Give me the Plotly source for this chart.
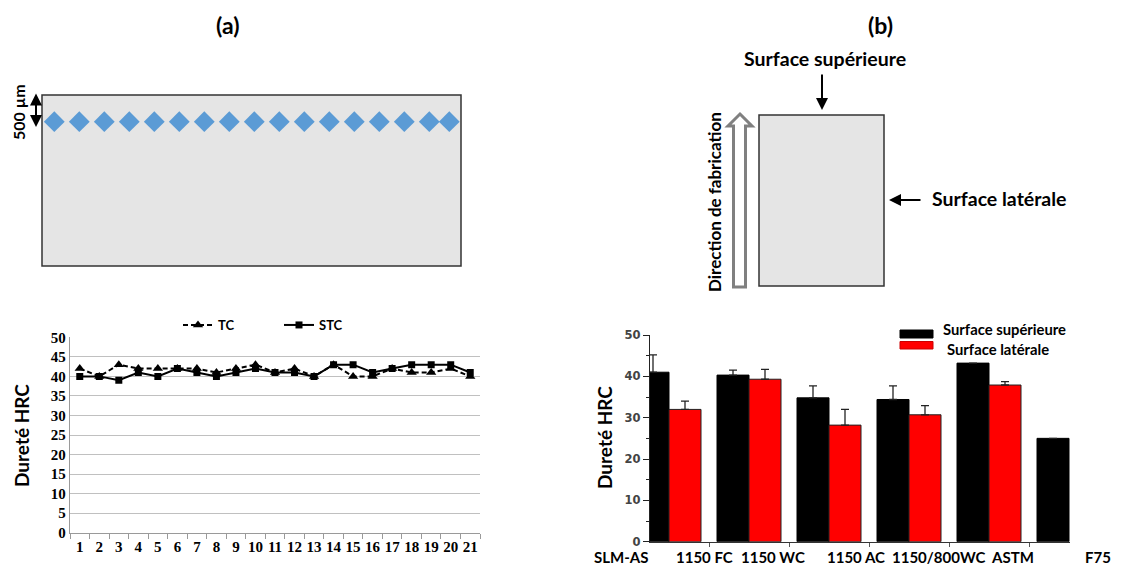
import plotly.graph_objects as go

W, H = 1126, 565
def X(px): return px / W
def Y(py): return 1 - py / H

# ---------------- data ----------------
points = [str(i) for i in range(1, 22)]
tc = [42, 40, 43, 42, 42, 42, 42, 41, 42, 43, 41, 42, 40, 43, 40, 40, 42, 41, 41, 42, 40]
stc = [40, 40, 39, 41, 40, 42, 41, 40, 41, 42, 41, 41, 40, 43, 43, 41, 42, 43, 43, 43, 41]

conditions = ["SLM-AS", "1150 FC", "1150 WC", "1150 AC", "1150/800WC", "ASTM F75"]
top_surface = [41.0, 40.3, 34.8, 34.4, 43.2, 25.0]
top_err = [4.2, 1.2, 2.9, 3.3, 0, 0]
side_surface = [32.0, 39.3, 28.2, 30.7, 37.9, None]
side_err = [2.0, 2.4, 3.8, 2.2, 0.8, 0]

indent_x = [1, 2, 3, 4, 5, 6, 7, 8, 9, 10, 11, 12, 13, 14, 15, 16, 16.8]
indent_depth = [500] * 17

FONT = "Lato"
SERIF = "Liberation Serif"

fig = go.Figure()

# ---------------- (a) line chart ----------------
fig.add_trace(go.Scatter(x=points, y=tc, name="TC", mode="lines+markers",
                         line=dict(color="black", width=2, dash="5px,3px"),
                         marker=dict(symbol="triangle-up", size=9, color="black"),
                         xaxis="x", yaxis="y"))
fig.add_trace(go.Scatter(x=points, y=stc, name="STC", mode="lines+markers",
                         line=dict(color="black", width=2),
                         marker=dict(symbol="square", size=7, color="black"),
                         xaxis="x", yaxis="y"))

# ---------------- (b) bar chart ----------------
fig.add_trace(go.Bar(x=conditions, y=top_surface, name="Surface supérieure",
                     marker=dict(color="black", line=dict(color="black", width=1)),
                     error_y=dict(type="data", symmetric=False, array=top_err,
                                  arrayminus=[0] * 6, color="#222", thickness=1.3, width=4),
                     xaxis="x2", yaxis="y2", showlegend=False))
fig.add_trace(go.Bar(x=conditions, y=side_surface, name="Surface latérale",
                     marker=dict(color="#ff0000", line=dict(color="#222", width=1)),
                     error_y=dict(type="data", symmetric=False, array=side_err,
                                  arrayminus=[0] * 6, color="#222", thickness=1.3, width=4),
                     xaxis="x2", yaxis="y2", showlegend=False))

# ---------------- indentation points ----------------
fig.add_trace(go.Scatter(x=indent_x, y=indent_depth, mode="markers",
                         marker=dict(symbol="diamond", size=16, color="#5b9bd5"),
                         xaxis="x3", yaxis="y3", showlegend=False))

fig.update_layout(
    width=W, height=H,
    margin=dict(l=0, r=0, t=0, b=0, autoexpand=False),
    paper_bgcolor="white", plot_bgcolor="white",
    barmode="group", bargap=0.2, bargroupgap=0,
    showlegend=True,
    legend=dict(orientation="h", x=X(178), y=Y(310), xanchor="left", yanchor="top",
                font=dict(family=FONT, size=13, color="black", weight="bold"),
                entrywidth=56, entrywidthmode="pixels", bgcolor="rgba(0,0,0,0)"),
    xaxis=dict(domain=[X(70), X(480)], type="category", range=[-0.5, 20.5],
               tickson="boundaries", ticks="outside", ticklen=5, tickcolor="#9a9a9a",
               showline=True, linecolor="#9a9a9a", linewidth=1.3, showgrid=False,
               tickangle=0,
               tickfont=dict(family=SERIF, size=15, color="black", weight="bold"),
               anchor="y"),
    yaxis=dict(domain=[Y(532.7), Y(337.3)], range=[0, 50], dtick=5,
               showgrid=True, gridcolor="#c0c0c0", gridwidth=1.3,
               showline=True, linecolor="#9a9a9a", linewidth=1.3, zeroline=False,
               ticks="", tickfont=dict(family=SERIF, size=15, color="black", weight="bold"),
               anchor="x"),
    xaxis2=dict(domain=[X(650), X(1070)], type="category", range=[-0.2375, 5.0125],
                showticklabels=False, tickson="boundaries", ticks="outside", ticklen=4,
                tickcolor="#555", showline=True, linecolor="#333", linewidth=1.3,
                showgrid=False, anchor="y2"),
    yaxis2=dict(domain=[Y(541.7), Y(335)], range=[0, 50], dtick=10,
                showgrid=False, showline=True, linecolor="#222", linewidth=1.3,
                zeroline=False, ticks="outside", ticklen=6, tickcolor="#222",
                minor=dict(dtick=5, ticks="outside", ticklen=3, tickcolor="#222"),
                tickfont=dict(family="DejaVu Sans", size=11.5, color="#444", weight="bold"),
                anchor="x2"),
    xaxis3=dict(domain=[X(42), X(461)], range=[0.508, 17.268], visible=False, anchor="y3"),
    yaxis3=dict(domain=[Y(266), Y(95)], range=[3200, 0], visible=False, anchor="x3"),
)

shapes = [
    dict(type="rect", xref="paper", yref="paper", x0=X(42), x1=X(461), y0=Y(266), y1=Y(95),
         fillcolor="#e5e5e5", line=dict(color="#333", width=1.5), layer="below"),
    dict(type="rect", xref="paper", yref="paper", x0=X(759), x1=X(884), y0=Y(286), y1=Y(115),
         fillcolor="#e5e5e5", line=dict(color="#333", width=1.5), layer="below"),
    dict(type="rect", xref="paper", yref="paper", x0=X(900), x1=X(933), y0=Y(338), y1=Y(330),
         fillcolor="black", line=dict(color="black", width=1)),
    dict(type="rect", xref="paper", yref="paper", x0=X(900), x1=X(933), y0=Y(349), y1=Y(341.5),
         fillcolor="#ff0000", line=dict(color="#cc0000", width=1)),
]
pts = [(740, 114), (752, 126), (745.5, 126), (745.5, 287), (733.5, 287), (733.5, 126), (728, 126)]
path = "M " + " L ".join(f"{X(a):.5f},{Y(b):.5f}" for a, b in pts) + " Z"
shapes.append(dict(type="path", xref="paper", yref="paper", path=path,
                   fillcolor="white", line=dict(color="#808080", width=3)))
fig.update_layout(shapes=shapes)

ann = []
def txt(text, x, y, size, xanchor="center", angle=0, color="black", family=FONT, bold=True):
    ann.append(dict(text=text, xref="paper", yref="paper", x=X(x), y=Y(y), showarrow=False,
                    xanchor=xanchor, yanchor="middle", textangle=angle,
                    font=dict(family=family, size=size, color=color,
                              weight="bold" if bold else "normal")))

txt("(a)", 227, 25, 23)
txt("(b)", 880, 25, 23)
txt("500 µm", 18, 112, 16, angle=-90)
txt("Surface supérieure", 825, 58, 19.5)
txt("Surface latérale", 930, 199, 19.5, xanchor="left")
txt("Direction de fabrication", 714, 202, 17, angle=-90)
txt("Dureté HRC", 21, 436, 19, angle=-90)
txt("Dureté HRC", 604, 438, 19, angle=-90)
txt("Surface supérieure", 941, 329, 14.8, xanchor="left")
txt("Surface latérale", 945, 349, 14.8, xanchor="left")

label_px = [621, 704, 773, 856, 938, 1012]
label_txt = ["SLM-AS", "1150 FC", "1150 WC", "1150 AC", "1150/800WC", "ASTM"]
for t, p in zip(label_txt, label_px):
    txt(t, p, 557, 15)
txt("F75", 1098, 557, 15)

arrows = [
    (36, 127, 36, 92, "end+start"),
    (822, 110, 822, 73, "end"),
    (889, 200, 922, 200, "end"),
]
for hx, hy, tx, ty, side in arrows:
    ann.append(dict(text="", xref="paper", yref="paper", axref="pixel", ayref="pixel",
                    x=X(hx), y=Y(hy), ax=tx - hx, ay=ty - hy, showarrow=True,
                    arrowhead=2, arrowsize=1.2, arrowwidth=2, arrowcolor="black",
                    startarrowhead=2, startarrowsize=1.2, arrowside=side))
fig.update_layout(annotations=ann)

fig.write_html("out.html", config={"displayModeBar": False},
               post_script="document.body.style.margin='0';document.body.style.overflow='hidden';")
